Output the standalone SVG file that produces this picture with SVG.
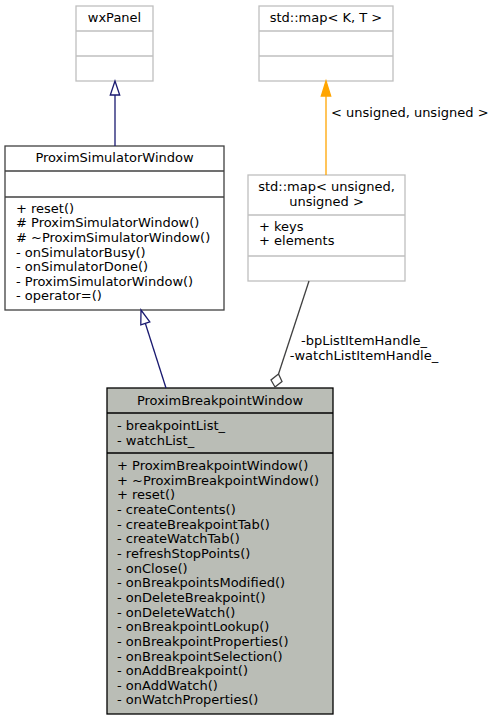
<svg xmlns="http://www.w3.org/2000/svg" width="493" height="720" viewBox="0 0 493 720">
<style>
text{font-family:"DejaVu Sans",sans-serif;font-size:13px;fill:#000}
.c{text-anchor:middle}
.light{fill:#fff;stroke:#bfbfbf;stroke-width:1.3}
.dark{fill:#fff;stroke:#404040;stroke-width:1.3}
.cur{fill:#babdb6;stroke:#000;stroke-width:1.3}
.dl{stroke:#bfbfbf;stroke-width:1.3}
.dd{stroke:#404040;stroke-width:1.3}
.dk{stroke:#000;stroke-width:1.3}
</style>
<rect width="493" height="720" fill="#fff"/>
<g id="wxPanel">
<rect class="light" x="76" y="6" width="77" height="75"/>
<line class="dl" x1="76" y1="31" x2="153" y2="31"/>
<line class="dl" x1="76" y1="56" x2="153" y2="56"/>
<text class="c" x="114.5" y="22">wxPanel</text>
</g>
<g id="stdMapKT">
<rect class="light" x="259" y="6" width="134" height="75"/>
<line class="dl" x1="259" y1="31" x2="393" y2="31"/>
<line class="dl" x1="259" y1="56" x2="393" y2="56"/>
<text class="c" x="326" y="22">std::map&lt; K, T &gt;</text>
</g>
<g id="ProximSimulatorWindow">
<rect class="dark" x="5" y="146" width="219" height="164"/>
<line class="dd" x1="5" y1="171" x2="224" y2="171"/>
<line class="dd" x1="5" y1="197" x2="224" y2="197"/>
<text class="c" x="114.5" y="161.5">ProximSimulatorWindow</text>
<text x="16" y="212.5">+ reset()</text>
<text x="16" y="227.2"># ProximSimulatorWindow()</text>
<text x="16" y="241.8"># ~ProximSimulatorWindow()</text>
<text x="16" y="256.5">- onSimulatorBusy()</text>
<text x="16" y="271.1">- onSimulatorDone()</text>
<text x="16" y="285.8">- ProximSimulatorWindow()</text>
<text x="16" y="300.4">- operator=()</text>
</g>
<g id="stdMapUnsigned">
<rect class="light" x="248" y="175" width="157" height="106"/>
<line class="dl" x1="248" y1="215" x2="405" y2="215"/>
<line class="dl" x1="248" y1="256" x2="405" y2="256"/>
<text class="c" x="326.5" y="191">std::map&lt; unsigned,</text>
<text class="c" x="326.5" y="205.5">unsigned &gt;</text>
<text x="259" y="230.7">+ keys</text>
<text x="259" y="245.3">+ elements</text>
</g>
<g id="ProximBreakpointWindow">
<rect class="cur" x="107" y="388" width="226" height="326"/>
<line class="dk" x1="107" y1="413" x2="333" y2="413"/>
<line class="dk" x1="107" y1="453" x2="333" y2="453"/>
<text class="c" x="220" y="405">ProximBreakpointWindow</text>
<text x="117" y="430">- breakpointList_</text>
<text x="117" y="444.7">- watchList_</text>
<text x="117" y="470">+ ProximBreakpointWindow()</text>
<text x="117" y="484.7">+ ~ProximBreakpointWindow()</text>
<text x="117" y="499.3">+ reset()</text>
<text x="117" y="514">- createContents()</text>
<text x="117" y="528.6">- createBreakpointTab()</text>
<text x="117" y="543.3">- createWatchTab()</text>
<text x="117" y="557.9">- refreshStopPoints()</text>
<text x="117" y="572.6">- onClose()</text>
<text x="117" y="587.2">- onBreakpointsModified()</text>
<text x="117" y="601.9">- onDeleteBreakpoint()</text>
<text x="117" y="616.5">- onDeleteWatch()</text>
<text x="117" y="631.2">- onBreakpointLookup()</text>
<text x="117" y="645.8">- onBreakpointProperties()</text>
<text x="117" y="660.5">- onBreakpointSelection()</text>
<text x="117" y="675.1">- onAddBreakpoint()</text>
<text x="117" y="689.8">- onAddWatch()</text>
<text x="117" y="704.4">- onWatchProperties()</text>
</g>
<g id="connectors">
<line x1="115" y1="146" x2="115" y2="95" stroke="#191970" stroke-width="1.3"/>
<polygon points="115,81 110.3,95 119.7,95" fill="#fff" stroke="#191970" stroke-width="1.3"/>
<line x1="326" y1="175" x2="326" y2="96" stroke="#ffa500" stroke-width="1.3"/>
<polygon points="326,81 321.3,96 330.7,96" fill="#ffa500" stroke="#ffa500" stroke-width="1.3"/>
<text x="331" y="116.5">&lt; unsigned, unsigned &gt;</text>
<line x1="166" y1="388" x2="145.3" y2="323.3" stroke="#191970" stroke-width="1.3"/>
<polygon points="141,310 140.8,324.8 149.8,321.9" fill="#fff" stroke="#191970" stroke-width="1.3"/>
<line x1="309" y1="281" x2="278.5" y2="374" stroke="#404040" stroke-width="1.3"/>
<polygon points="275,387 271,380 278.5,374 282,381.5" fill="#fff" stroke="#404040" stroke-width="1.3"/>
<text class="c" x="364" y="345">-bpListItemHandle_</text>
<text class="c" x="364" y="360">-watchListItemHandle_</text>
</g>
</svg>
